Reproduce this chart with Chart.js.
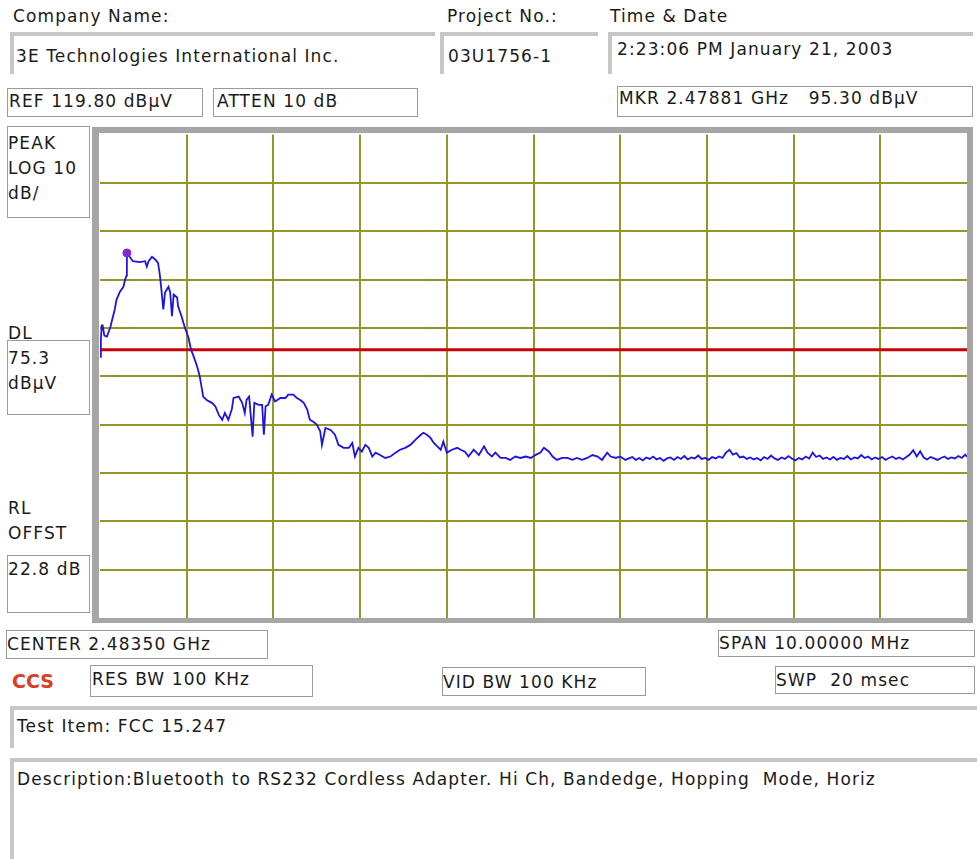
<!DOCTYPE html>
<html>
<head>
<meta charset="utf-8">
<script src="https://cdn.jsdelivr.net/npm/chart.js@4.4.0/dist/chart.umd.min.js"></script>
<style>
  html, body { margin: 0; padding: 0; background: #fff; }
  body { width: 979px; height: 859px; position: relative; overflow: hidden;
         font-family: "DejaVu Sans", Verdana, sans-serif; font-size: 17px; color: #1a1a1a; }
  .t { position: absolute; white-space: pre; line-height: 17px; letter-spacing: 1.1px; }
  .box { position: absolute; box-sizing: border-box; border: 1px solid #9a9a9a; background: #fff; }
  .groove { position: absolute; box-sizing: border-box; border-top: 4px solid #c6c6c6; border-left: 4px solid #c6c6c6; }
  #frame { position: absolute; left: 92px; top: 127px; width: 881px; height: 496px; box-sizing: border-box;
           border-style: solid; border-color: #a6a6a6; border-width: 6px 6px 5px 7px; background: #fff; }
  #plot { position: absolute; left: 92px; top: 127px; }
  #ccs { position: absolute; left: 12px; top: 672px; font-weight: bold; color: #d8401f; font-size: 19px; line-height: 19px; }
</style>
</head>
<body>

<!-- header -->
<div class="groove" style="left:10px;top:32px;width:425px;height:42px;"></div>
<div class="groove" style="left:440px;top:32px;width:158px;height:42px;"></div>
<div class="groove" style="left:608px;top:32px;width:365px;height:42px;"></div>
<div class="t" style="left:13px;top:8px;">Company Name:</div>
<div class="t" style="left:447px;top:8px;">Project No.:</div>
<div class="t" style="left:610px;top:8px;">Time &amp; Date</div>
<div class="t" style="left:16px;top:48px;">3E Technologies International Inc.</div>
<div class="t" style="left:448px;top:48px;">03U1756-1</div>
<div class="t" style="left:617px;top:41px;">2:23:06 PM January 21, 2003</div>

<div class="box" style="left:7px;top:88px;width:196px;height:29px;"></div>
<div class="t" style="left:9px;top:93px;">REF 119.80 dBµV</div>
<div class="box" style="left:213px;top:88px;width:205px;height:29px;"></div>
<div class="t" style="left:217px;top:93px;">ATTEN 10 dB</div>
<div class="box" style="left:617px;top:86px;width:356px;height:31px;"></div>
<div class="t" style="left:619px;top:90px;">MKR 2.47881 GHz   95.30 dBµV</div>

<!-- left panel -->
<div class="box" style="left:7px;top:126px;width:83px;height:92px;"></div>
<div class="t" style="left:8px;top:135px;">PEAK</div>
<div class="t" style="left:8px;top:160px;">LOG 10</div>
<div class="t" style="left:8px;top:185px;">dB/</div>
<div class="t" style="left:8px;top:325px;">DL</div>
<div class="box" style="left:7px;top:340px;width:83px;height:75px;"></div>
<div class="t" style="left:8px;top:350px;">75.3</div>
<div class="t" style="left:8px;top:375px;">dBµV</div>
<div class="t" style="left:8px;top:500px;">RL</div>
<div class="t" style="left:8px;top:525px;">OFFST</div>
<div class="box" style="left:7px;top:555px;width:83px;height:58px;"></div>
<div class="t" style="left:8px;top:561px;">22.8 dB</div>

<!-- plot -->
<div id="frame"></div>
<canvas id="plot" width="881" height="496"></canvas>

<!-- bottom -->
<div class="box" style="left:6px;top:630px;width:262px;height:29px;"></div>
<div class="t" style="left:7px;top:636px;">CENTER 2.48350 GHz</div>
<div class="box" style="left:718px;top:630px;width:257px;height:27px;"></div>
<div class="t" style="left:719px;top:635px;">SPAN 10.00000 MHz</div>
<div id="ccs">CCS</div>
<div class="box" style="left:90px;top:665px;width:223px;height:32px;"></div>
<div class="t" style="left:92px;top:671px;">RES BW 100 KHz</div>
<div class="box" style="left:442px;top:667px;width:204px;height:29px;"></div>
<div class="t" style="left:443px;top:674px;">VID BW 100 KHz</div>
<div class="box" style="left:775px;top:666px;width:200px;height:28px;"></div>
<div class="t" style="left:776px;top:672px;">SWP  20 msec</div>

<div class="groove" style="left:10px;top:706px;width:967px;height:42px;"></div>
<div class="t" style="left:17px;top:718px;">Test Item: FCC 15.247</div>
<div class="groove" style="left:10px;top:758px;width:967px;height:110px;"></div>
<div class="t" style="left:17px;top:771px;">Description:Bluetooth to RS232 Cordless Adapter. Hi Ch, Bandedge, Hopping  Mode, Horiz</div>

<script>
// sweep: 2478.5 .. 2488.5 MHz (center 2483.5, span 10 MHz)
var freqStart = 2478.5;
var freqStop = 2488.5;
var levelBottom = 19.8;
var levelTop = 119.8;   // REF 119.80 dBuV, 10 dB/div

// grid divisions
var freqGrid = [2479.5, 2480.5, 2481.5, 2482.5, 2483.5, 2484.5, 2485.5, 2486.5, 2487.5];
var levelGrid = [29.8, 39.8, 49.8, 59.8, 69.8, 79.8, 89.8, 99.8, 109.8];

// display line
var dlLevel = 75.3;

// marker
var mkrFreq = 2478.81;
var mkrLevel = 95.3;

// trace (MHz)
var traceFreq = [
  2478.50, 2478.51, 2478.52, 2478.53, 2478.55, 2478.58, 2478.62, 2478.64, 2478.67, 2478.69,
  2478.73, 2478.77, 2478.79, 2478.806, 2478.81, 2478.85, 2478.88, 2478.96, 2479.02, 2479.04,
  2479.06, 2479.10, 2479.14, 2479.17, 2479.19, 2479.21, 2479.23, 2479.25, 2479.29, 2479.31,
  2479.33, 2479.35, 2479.39, 2479.40, 2479.44, 2479.48, 2479.52, 2479.55, 2479.58, 2479.62,
  2479.65, 2479.67, 2479.69, 2479.73, 2479.79, 2479.83, 2479.87, 2479.91, 2479.94, 2479.98,
  2480.02, 2480.04, 2480.10, 2480.14, 2480.17, 2480.19, 2480.22, 2480.26, 2480.28, 2480.33,
  2480.37, 2480.39, 2480.41, 2480.44, 2480.48, 2480.52, 2480.58, 2480.64, 2480.67, 2480.73,
  2480.77, 2480.81, 2480.85, 2480.89, 2480.92, 2480.96, 2481.00, 2481.04, 2481.06, 2481.10,
  2481.16, 2481.21, 2481.25, 2481.31, 2481.37, 2481.41, 2481.44, 2481.48, 2481.52, 2481.56,
  2481.60, 2481.64, 2481.68, 2481.73, 2481.79, 2481.85, 2481.91, 2481.96, 2482.02, 2482.08,
  2482.14, 2482.20, 2482.23, 2482.27, 2482.31, 2482.35, 2482.39, 2482.43, 2482.46, 2482.50,
  2482.56, 2482.62, 2482.66, 2482.71, 2482.75, 2482.81, 2482.87, 2482.93, 2482.97, 2483.02,
  2483.06, 2483.12, 2483.18, 2483.23, 2483.29, 2483.35, 2483.41, 2483.47, 2483.52, 2483.58,
  2483.62, 2483.68, 2483.72, 2483.77, 2483.83, 2483.89, 2483.95, 2484.00, 2484.06, 2484.12,
  2484.18, 2484.24, 2484.29, 2484.35, 2484.39, 2484.45, 2484.50, 2484.56,
  2484.60, 2484.64, 2484.68, 2484.72, 2484.76, 2484.80, 2484.84, 2484.88, 2484.92, 2484.96,
  2485.00, 2485.04, 2485.08, 2485.12, 2485.16, 2485.20, 2485.24, 2485.28, 2485.32, 2485.36,
  2485.40, 2485.44, 2485.48, 2485.52, 2485.56, 2485.60, 2485.64, 2485.68, 2485.72, 2485.76,
  2485.80, 2485.84, 2485.88, 2485.92, 2485.96, 2486.00, 2486.04, 2486.08, 2486.12, 2486.16,
  2486.20, 2486.24, 2486.28, 2486.32, 2486.36, 2486.40, 2486.44, 2486.48, 2486.52, 2486.56,
  2486.60, 2486.64, 2486.68, 2486.72, 2486.76, 2486.80, 2486.84, 2486.88, 2486.92, 2486.96,
  2487.00, 2487.04, 2487.08, 2487.12, 2487.16, 2487.20, 2487.24, 2487.28, 2487.32, 2487.36,
  2487.40, 2487.44, 2487.48, 2487.52, 2487.56, 2487.60, 2487.64, 2487.68, 2487.72, 2487.76,
  2487.80, 2487.84, 2487.88, 2487.92, 2487.96, 2488.00, 2488.04, 2488.08, 2488.12, 2488.16,
  2488.20, 2488.24, 2488.28, 2488.32, 2488.36, 2488.40, 2488.44, 2488.48, 2488.50
];
// trace (dBuV)
var traceLevel = [
  73.8, 77.4, 80.3, 80.3, 78.2, 78.0, 80.0, 81.5, 83.6, 85.6,
  87.3, 88.3, 89.8, 90.6, 95.3, 94.3, 93.6, 93.4, 93.6, 92.5,
  93.6, 94.5, 93.9, 93.2, 90.8, 87.4, 83.6, 87.1, 88.3, 87.1,
  82.2, 86.7, 86.1, 84.3, 82.2, 79.8, 77.8, 75.3, 73.9, 71.8,
  69.8, 67.7, 65.6, 64.9, 64.3, 63.6, 61.8, 60.8, 62.2, 60.8,
  62.9, 65.3, 65.6, 64.3, 62.2, 64.9, 65.6, 57.3, 64.3, 63.9,
  63.9, 57.7, 63.6, 63.9, 66.0, 64.6, 65.3, 65.3, 66.0, 66.0,
  65.3, 64.9, 64.3, 62.9, 60.8, 60.4, 59.8, 58.4, 55.6, 59.1,
  58.7, 57.7, 55.6, 55.0, 55.0, 56.0, 53.2, 55.0, 54.2, 55.6,
  55.0, 53.2, 54.0, 53.5, 52.9, 53.2, 54.0, 54.6, 55.0, 55.6,
  56.7, 57.7, 58.1, 57.7, 57.1, 56.0, 55.3, 54.6, 56.3, 54.0,
  54.6, 55.0, 54.6, 54.2, 53.2, 54.6, 53.5, 55.3, 54.0, 53.2,
  54.0, 52.9, 52.9, 52.5, 53.2, 52.9, 53.2, 52.9, 53.5, 54.0,
  55.0, 54.2, 53.2, 52.5, 52.9, 52.9, 52.5, 52.9, 52.5, 52.9,
  53.5, 53.2, 52.5, 54.0, 53.2, 52.9, 53.2, 52.5,
  52.8, 53.1, 52.5, 52.9, 52.4, 53.0, 52.7, 53.2, 52.6, 52.9,
  52.3, 52.8, 53.0, 52.5, 53.1, 52.7, 53.3, 52.6, 53.0, 52.8,
  53.4, 52.7, 52.9, 52.5, 53.1, 52.8, 53.2, 52.9, 54.0, 54.6,
  53.6, 53.9, 53.0, 53.2, 52.7, 53.0, 52.6, 52.9, 52.4, 53.1,
  52.7, 53.4, 52.8, 52.5, 53.0, 52.7, 53.3, 52.8, 52.4, 52.9,
  52.6, 53.2, 52.8, 54.0, 53.1, 53.4, 52.7, 53.0, 52.6, 53.1,
  52.5, 52.9, 52.7, 53.3, 52.6, 53.0, 52.8, 53.5, 52.9, 53.2,
  52.6, 53.0, 52.7, 53.1, 52.5, 52.9, 53.2, 52.7, 53.0, 52.6,
  53.1, 53.6, 54.5, 53.2, 54.3, 53.0, 52.6, 53.1, 52.8, 52.5,
  52.9, 53.2, 52.7, 53.0, 52.8, 53.3, 52.9, 53.6, 53.1
];

var gridColor = 'rgb(150,150,40)';

function points(xs, ys) {
  var out = [];
  for (var i = 0; i < xs.length; i++) {
    out.push({ x: xs[i], y: ys[i] });
  }
  return out;
}

function gridAxis(min, max, gridValues) {
  return {
    type: 'linear',
    min: min,
    max: max,
    afterBuildTicks: function (scale) {
      scale.ticks = gridValues.map(function (v) { return { value: v }; });
    },
    ticks: { display: false },
    grid: { color: gridColor, lineWidth: 2, drawTicks: false },
    border: { display: false }
  };
}

new Chart(document.getElementById('plot'), {
  type: 'line',
  data: {
    datasets: [
      {
        label: 'MKR',
        data: [{ x: mkrFreq, y: mkrLevel }],
        showLine: false,
        pointRadius: 4,
        pointBackgroundColor: 'rgb(130,40,210)',
        pointBorderColor: 'rgb(130,40,210)'
      },
      {
        label: 'Trace',
        data: points(traceFreq, traceLevel),
        borderColor: 'rgb(30,20,225)',
        borderWidth: 1.8,
        pointRadius: 0,
        tension: 0
      },
      {
        label: 'DL',
        data: [{ x: freqStart, y: dlLevel }, { x: freqStop, y: dlLevel }],
        borderColor: 'rgb(200,0,0)',
        borderWidth: 3,
        pointRadius: 0
      }
    ]
  },
  options: {
    responsive: false,
    animation: false,
    devicePixelRatio: 1,
    layout: { padding: { left: 8, top: 7.5, right: 6, bottom: 5 } },
    plugins: { legend: { display: false }, tooltip: { enabled: false } },
    scales: {
      x: gridAxis(freqStart, freqStop, freqGrid),
      y: gridAxis(levelBottom, levelTop, levelGrid)
    }
  }
});
</script>
</body>
</html>
